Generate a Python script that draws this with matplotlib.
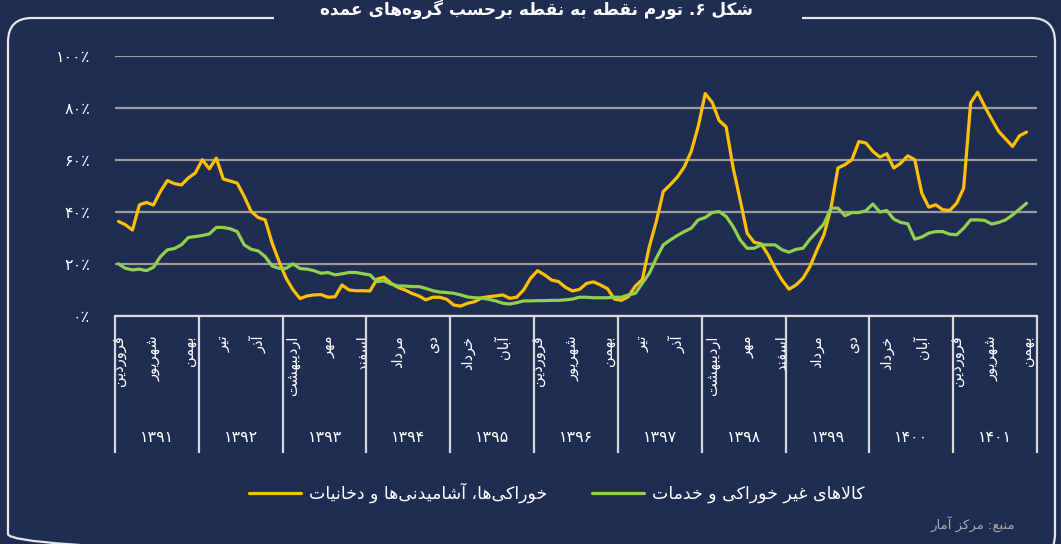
import matplotlib
matplotlib.use("Agg")
import matplotlib.pyplot as plt
from matplotlib.patches import FancyBboxPatch, Rectangle
import numpy as np

# ---------------- data ----------------
months = ["فروردین", "اردیبهشت", "خرداد", "تیر", "مرداد", "شهریور",
          "مهر", "آبان", "آذر", "دی", "بهمن", "اسفند"]
years = ["۱۳۹۱", "۱۳۹۲", "۱۳۹۳", "۱۳۹۴", "۱۳۹۵", "۱۳۹۶",
         "۱۳۹۷", "۱۳۹۸", "۱۳۹۹", "۱۴۰۰", "۱۴۰۱"]
ytick_labels = ["۰٪", "۲۰٪", "۴۰٪", "۶۰٪", "۸۰٪", "۱۰۰٪"]

food = [
    36.3, 35.0, 33.0, 42.7, 43.6, 42.6, 47.8, 52.0, 50.8, 50.3, 53.0, 54.9,
    60.0, 56.5, 60.6, 52.6, 51.8, 51.0, 45.9, 40.1, 37.8, 36.9, 28.0, 20.9,
    14.5, 10.0, 6.7, 7.7, 8.1, 8.2, 7.2, 7.4, 11.9, 10.0, 9.7, 9.7,
    9.6, 14.1, 14.9, 12.6, 11.0, 10.0, 8.7, 7.7, 6.2, 7.2, 7.2, 6.4,
    4.2, 3.8, 4.9, 5.5, 7.0, 7.4, 7.7, 8.1, 6.8, 7.2, 10.0, 14.5,
    17.4, 15.8, 13.8, 13.2, 11.0, 9.6, 10.2, 12.5, 13.1, 11.9, 10.5, 6.5,
    6.0, 7.4, 11.5, 14.0, 26.7, 36.3, 47.8, 50.4, 53.3, 57.2, 63.2, 72.8,
    85.4, 82.0, 75.0, 72.6, 56.8, 44.6, 31.8, 28.3, 27.7, 23.5, 18.3, 13.8,
    10.3, 11.9, 14.5, 19.0, 25.4, 31.2, 41.4, 56.8, 58.1, 60.0, 67.0, 66.4,
    63.2, 61.0, 62.3, 56.8, 58.7, 61.5, 60.0, 47.2, 41.8, 42.7, 40.8, 40.5,
    43.3, 49.1, 81.8, 85.9, 80.5, 75.6, 70.9, 68.0, 65.1, 69.2, 70.6,
]
nonfood = [
    20.0, 18.3, 17.7, 18.0, 17.4, 18.7, 22.8, 25.4, 25.9, 27.3, 30.1, 30.5,
    30.9, 31.5, 34.0, 34.0, 33.5, 32.4, 27.3, 25.6, 25.0, 22.8, 19.2, 18.3,
    18.3, 20.0, 18.2, 18.0, 17.4, 16.4, 16.7, 15.8, 16.2, 16.7, 16.7, 16.2,
    15.8, 13.2, 13.5, 12.3, 11.5, 11.5, 11.3, 11.3, 10.6, 9.7, 9.2, 9.0,
    8.7, 8.1, 7.3, 7.0, 6.9, 6.4, 5.8, 4.9, 4.6, 5.1, 5.8, 5.8,
    5.9, 5.9, 6.0, 6.0, 6.2, 6.5, 7.2, 7.2, 7.0, 7.0, 7.0, 7.2,
    7.2, 8.1, 8.7, 12.6, 16.4, 22.2, 27.3, 29.2, 30.9, 32.4, 33.7, 36.9,
    37.8, 39.7, 40.1, 38.2, 34.3, 29.2, 26.0, 26.0, 27.3, 27.3, 27.3, 25.4,
    24.5, 25.6, 26.0, 29.5, 32.4, 35.4, 41.4, 41.4, 38.5, 39.7, 39.7, 40.4,
    43.0, 39.9, 40.5, 37.2, 35.9, 35.4, 29.5, 30.3, 31.8, 32.4, 32.4, 31.4,
    31.2, 33.7, 36.9, 36.9, 36.7, 35.3, 35.9, 36.9, 38.8, 41.0, 43.3,
]
food_label = "خوراکی‌ها، آشامیدنی‌ها و دخانیات"
nonfood_label = "کالاهای غیر خوراکی و خدمات"
title = "شکل ۶. تورم نقطه به نقطه برحسب گروه‌های عمده"
source = "منبع: مرکز آمار"

# ---------------- simple Persian shaping ----------------
_F = {  # isolated, final, initial, medial
    'ا': ('\uFE8D', '\uFE8E', None, None), 'آ': ('\uFE81', '\uFE82', None, None),
    'ب': ('\uFE8F', '\uFE90', '\uFE91', '\uFE92'), 'پ': ('\uFB56', '\uFB57', '\uFB58', '\uFB59'),
    'ت': ('\uFE95', '\uFE96', '\uFE97', '\uFE98'), 'ث': ('\uFE99', '\uFE9A', '\uFE9B', '\uFE9C'),
    'ج': ('\uFE9D', '\uFE9E', '\uFE9F', '\uFEA0'), 'چ': ('\uFB7A', '\uFB7B', '\uFB7C', '\uFB7D'),
    'ح': ('\uFEA1', '\uFEA2', '\uFEA3', '\uFEA4'), 'خ': ('\uFEA5', '\uFEA6', '\uFEA7', '\uFEA8'),
    'د': ('\uFEA9', '\uFEAA', None, None), 'ذ': ('\uFEAB', '\uFEAC', None, None),
    'ر': ('\uFEAD', '\uFEAE', None, None), 'ز': ('\uFEAF', '\uFEB0', None, None),
    'ژ': ('\uFB8A', '\uFB8B', None, None),
    'س': ('\uFEB1', '\uFEB2', '\uFEB3', '\uFEB4'), 'ش': ('\uFEB5', '\uFEB6', '\uFEB7', '\uFEB8'),
    'ص': ('\uFEB9', '\uFEBA', '\uFEBB', '\uFEBC'), 'ض': ('\uFEBD', '\uFEBE', '\uFEBF', '\uFEC0'),
    'ط': ('\uFEC1', '\uFEC2', '\uFEC3', '\uFEC4'), 'ظ': ('\uFEC5', '\uFEC6', '\uFEC7', '\uFEC8'),
    'ع': ('\uFEC9', '\uFECA', '\uFECB', '\uFECC'), 'غ': ('\uFECD', '\uFECE', '\uFECF', '\uFED0'),
    'ف': ('\uFED1', '\uFED2', '\uFED3', '\uFED4'), 'ق': ('\uFED5', '\uFED6', '\uFED7', '\uFED8'),
    'ک': ('\uFB8E', '\uFB8F', '\uFB90', '\uFB91'), 'گ': ('\uFB92', '\uFB93', '\uFB94', '\uFB95'),
    'ل': ('\uFEDD', '\uFEDE', '\uFEDF', '\uFEE0'), 'م': ('\uFEE1', '\uFEE2', '\uFEE3', '\uFEE4'),
    'ن': ('\uFEE5', '\uFEE6', '\uFEE7', '\uFEE8'), 'ه': ('\uFEE9', '\uFEEA', '\uFEEB', '\uFEEC'),
    'و': ('\uFEED', '\uFEEE', None, None),
    'ی': ('\uFBFC', '\uFBFD', '\uFBFE', '\uFBFF'),
}
_LA = {'ا': ('\uFEFB', '\uFEFC'), 'آ': ('\uFEF5', '\uFEF6')}


def fa(text):
    ch = list(text)
    n = len(ch)
    res = []
    i = 0
    while i < n:
        c = ch[i]
        if c not in _F:
            res.append(c)
            i += 1
            continue
        prev = ch[i - 1] if i > 0 else None
        cp = prev in _F and _F[prev][2] is not None
        if c == 'ل' and i + 1 < n and ch[i + 1] in _LA:
            res.append(_LA[ch[i + 1]][1 if cp else 0])
            i += 2
            continue
        nxt = ch[i + 1] if i + 1 < n else None
        cn = nxt in _F and _F[c][2] is not None
        iso, fin, ini, med = _F[c]
        res.append(med if (cp and cn) else fin if cp else ini if cn else iso)
        i += 1
    return ''.join(res).replace('\u200c', '')[::-1]


# ---------------- figure ----------------
BG = "#1f2d53"
W, H = 1061, 544
plt.rcParams['font.family'] = ['DejaVu Sans']
fig = plt.figure(figsize=(W / 100, H / 100), dpi=100, facecolor=BG)

# background / frame layer in pixel coordinates
bg = fig.add_axes([0, 0, 1, 1], zorder=0)
bg.set_xlim(0, W)
bg.set_ylim(H, 0)
bg.axis('off')
frame = FancyBboxPatch((8, 18), 1047, 540, boxstyle="round,pad=0,rounding_size=24",
                       fill=False, ec="#e6e6e6", lw=1.6)
bg.add_patch(frame)
bg.add_patch(Rectangle((274, 10), 528, 16, fc=BG, ec='none', zorder=3))
bg.text(537, 9, fa(title), color='white', fontsize=12.2, fontweight='bold',
        ha='center', va='center', zorder=4)
bg.text(1015, 524, fa(source), color='#a8a8a8', fontsize=9.5, ha='right', va='center')

# main chart
ax = fig.add_axes([115 / W, (H - 316) / H, (1037 - 115) / W, (316 - 55.5) / H], zorder=1)
ax.set_facecolor('none')
x = np.arange(len(food))
ax.plot(x, food, color="#FFC000", lw=2.3, solid_joinstyle='round', solid_capstyle='round',
        label=fa(food_label), zorder=3)
ax.plot(x, nonfood, color="#92D050", lw=2.3, solid_joinstyle='round', solid_capstyle='round',
        label=fa(nonfood_label), zorder=3)

ncat = len(years) * 12
ax.set_xlim(-0.5, ncat - 0.5)
ax.set_ylim(0, 100)
ax.set_yticks(np.arange(0, 101, 20))
ax.set_yticklabels(ytick_labels)
ax.grid(axis='y', color='#9c9c9c', lw=1.6)
ax.set_axisbelow(True)
for s in ['top', 'right', 'left']:
    ax.spines[s].set_visible(False)
ax.spines['bottom'].set_color('#d9d9d9')
ax.spines['bottom'].set_linewidth(1.6)
ax.spines['bottom'].set_zorder(2)
ax.tick_params(axis='y', length=0, pad=18, labelcolor='white', labelsize=11.5)

# month labels every 5 months
pos = list(range(0, len(food), 5))
ax.set_xticks(pos)
ax.set_xticklabels([fa(months[p % 12]) for p in pos], rotation=90, va='top', ha='center')
ax.tick_params(axis='x', which='major', length=0, pad=14, labelcolor='white', labelsize=10.5)
# year separators
ax.set_xticks(np.arange(-0.5, ncat, 12), minor=True)
ax.tick_params(axis='x', which='minor', length=98.5, width=1.6, color='#d9d9d9', direction='out')
for k, yr in enumerate(years):
    ax.annotate(yr, xy=(k * 12 + 5.5, 0), xycoords=('data', 'axes fraction'),
                xytext=(0, -121 * 0.72), textcoords='offset points',
                ha='center', va='center', color='white', fontsize=11.5)

fig.legend(loc='center', bbox_to_anchor=(557 / W, 1 - 493 / H), ncol=2, frameon=False,
           labelcolor='white', fontsize=12.5, handlelength=3.0, columnspacing=2.6,
           handletextpad=0.45)

fig.savefig("out.png", dpi=100, facecolor=BG)
